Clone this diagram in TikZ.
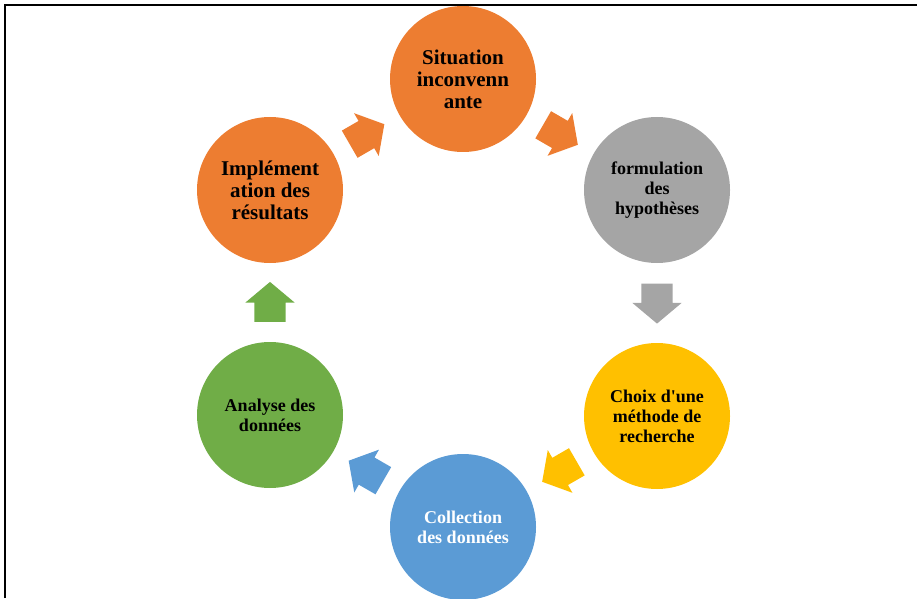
\documentclass[tikz,border=0pt]{standalone}
\usepackage{fontspec}
\setmainfont{Liberation Serif}
\usetikzlibrary{calc}
\usetikzlibrary{shapes.arrows}
\definecolor{steporange}{HTML}{ED7D31}
\definecolor{stepgrey}{HTML}{A5A5A5}
\definecolor{stepyellow}{HTML}{FFC000}
\definecolor{stepblue}{HTML}{5B9BD5}
\definecolor{stepgreen}{HTML}{70AD47}
\tikzset{
	stepcircle/.style={circle, draw=none, minimum size=146pt, inner sep=0pt, align=center,
		font=\bfseries\fontsize{18}{20}\selectfont},
	bigtext/.style={font=\bfseries\fontsize{21}{22}\selectfont},
	blockarrow/.style={single arrow, draw=none, inner xsep=0pt, inner ysep=15.5pt,
		minimum height=40pt, minimum width=49pt, single arrow head extend=9pt,
		single arrow tip angle=100, rotate=#1, xshift=-6pt}
}

\begin{document}
\begin{tikzpicture}[x=1pt, y=1pt]
	\useasboundingbox (0,0) rectangle (917,598);
	\draw[line width=1.6pt] (5,0) -- (5,593) -- (917,593);
	\node[stepcircle, bigtext, fill=steporange] (sit) at (463,519) {Situation\\inconvenn\\ante};
	\node[stepcircle, fill=stepgrey] (form) at (657,408) {formulation\\des\\hypothèses};
	\node[stepcircle, fill=stepyellow] (choix) at (657,182) {Choix d\textquotesingle une\\méthode de\\recherche};
	\node[stepcircle, fill=stepblue, text=white] (coll) at (463,71) {Collection\\des données};
	\node[stepcircle, fill=stepgreen] (anal) at (270,183) {Analyse des\\données};
	\node[stepcircle, bigtext, fill=steporange] (impl) at (270,408) {Implément\\ation des\\résultats};
	\node[blockarrow=-30, fill=steporange] (arrA) at ($(sit)!0.5!(form)$) {};
	\node[blockarrow=-90, fill=stepgrey] (arrB) at ($(form)!0.5!(choix)$) {};
	\node[blockarrow=-150, fill=stepyellow] (arrC) at ($(choix)!0.5!(coll)$) {};
	\node[blockarrow=150, fill=stepblue] (arrD) at ($(coll)!0.5!(anal)$) {};
	\node[blockarrow=90, fill=stepgreen] (arrE) at ($(anal)!0.5!(impl)$) {};
	\node[blockarrow=30, fill=steporange] (arrF) at ($(impl)!0.5!(sit)$) {};
\end{tikzpicture}
\end{document}
